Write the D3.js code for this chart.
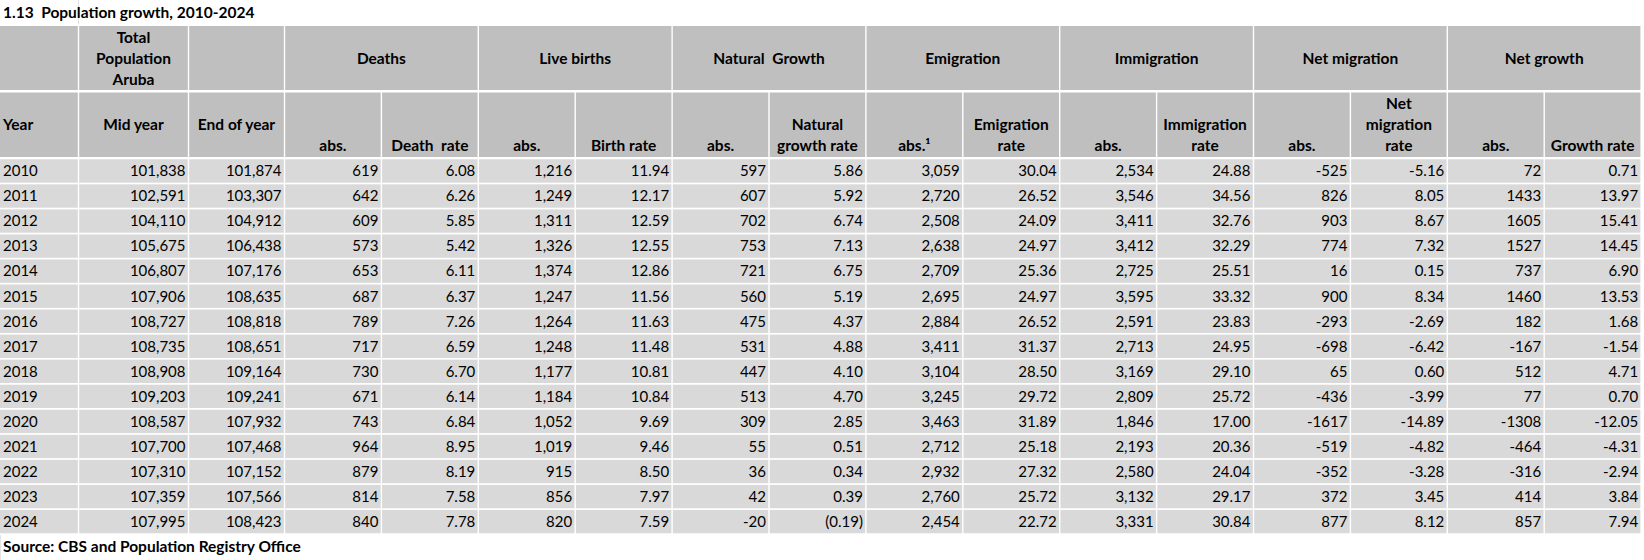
<!DOCTYPE html>
<html>
<head>
<meta charset="utf-8">
<script src="https://cdn.jsdelivr.net/npm/d3@7"></script>
<style>
  body { margin: 0; background: #fff; }
  svg text { font-family: Lato, "Open Sans", sans-serif; font-size: 15px; fill: #000; white-space: pre; }
  .bold { font-weight: bold; font-size: 15.5px; }
</style>
</head>
<body>
<svg id="chart" width="1644" height="560"></svg>
<script>
// table values
var years = [2010, 2011, 2012, 2013, 2014, 2015, 2016, 2017, 2018, 2019, 2020, 2021, 2022, 2023, 2024];
var midYear = [101838, 102591, 104110, 105675, 106807, 107906, 108727, 108735, 108908, 109203, 108587, 107700, 107310, 107359, 107995];
var endOfYear = [101874, 103307, 104912, 106438, 107176, 108635, 108818, 108651, 109164, 109241, 107932, 107468, 107152, 107566, 108423];
var deathsAbs = [619, 642, 609, 573, 653, 687, 789, 717, 730, 671, 743, 964, 879, 814, 840];
var deathRate = [6.08, 6.26, 5.85, 5.42, 6.11, 6.37, 7.26, 6.59, 6.70, 6.14, 6.84, 8.95, 8.19, 7.58, 7.78];
var birthsAbs = [1216, 1249, 1311, 1326, 1374, 1247, 1264, 1248, 1177, 1184, 1052, 1019, 915, 856, 820];
var birthRate = [11.94, 12.17, 12.59, 12.55, 12.86, 11.56, 11.63, 11.48, 10.81, 10.84, 9.69, 9.46, 8.50, 7.97, 7.59];
var naturalAbs = [597, 607, 702, 753, 721, 560, 475, 531, 447, 513, 309, 55, 36, 42, -20];
var naturalRate = [5.86, 5.92, 6.74, 7.13, 6.75, 5.19, 4.37, 4.88, 4.10, 4.70, 2.85, 0.51, 0.34, 0.39, -0.19];
var emigrationAbs = [3059, 2720, 2508, 2638, 2709, 2695, 2884, 3411, 3104, 3245, 3463, 2712, 2932, 2760, 2454];
var emigrationRate = [30.04, 26.52, 24.09, 24.97, 25.36, 24.97, 26.52, 31.37, 28.50, 29.72, 31.89, 25.18, 27.32, 25.72, 22.72];
var immigrationAbs = [2534, 3546, 3411, 3412, 2725, 3595, 2591, 2713, 3169, 2809, 1846, 2193, 2580, 3132, 3331];
var immigrationRate = [24.88, 34.56, 32.76, 32.29, 25.51, 33.32, 23.83, 24.95, 29.10, 25.72, 17.00, 20.36, 24.04, 29.17, 30.84];
var netMigrationAbs = [-525, 826, 903, 774, 16, 900, -293, -698, 65, -436, -1617, -519, -352, 372, 877];
var netMigrationRate = [-5.16, 8.05, 8.67, 7.32, 0.15, 8.34, -2.69, -6.42, 0.60, -3.99, -14.89, -4.82, -3.28, 3.45, 8.12];
var netGrowthAbs = [72, 1433, 1605, 1527, 737, 1460, 182, -167, 512, 77, -1308, -464, -316, 414, 857];
var growthRate = [0.71, 13.97, 15.41, 14.45, 6.90, 13.53, 1.68, -1.54, 4.71, 0.70, -12.05, -4.31, -2.94, 3.84, 7.94];

var groupHeaders = [
  { label: [""], from: 0, to: 0 },
  { label: ["Total", "Population", "Aruba"], from: 1, to: 1 },
  { label: [""], from: 2, to: 2 },
  { label: ["Deaths"], from: 3, to: 4 },
  { label: ["Live births"], from: 5, to: 6 },
  { label: ["Natural  Growth"], from: 7, to: 8 },
  { label: ["Emigration"], from: 9, to: 10 },
  { label: ["Immigration"], from: 11, to: 12 },
  { label: ["Net migration"], from: 13, to: 14 },
  { label: ["Net growth"], from: 15, to: 16 }
];
var subHeaders = [
  ["Year"], ["Mid year"], ["End of year"],
  ["abs."], ["Death  rate"],
  ["abs."], ["Birth rate"],
  ["abs."], ["Natural", "growth rate"],
  ["abs.\u00b9"], ["Emigration", "rate"],
  ["abs."], ["Immigration", "rate"],
  ["abs."], ["Net", "migration", "rate"],
  ["abs."], ["Growth rate"]
];

var title = "1.13  Population growth, 2010-2024";
var source = "Source: CBS and Population Registry Office";

// number formats (plain hyphen for negatives, as in the sheet)
var loc = d3.formatLocale({ decimal: ".", thousands: ",", grouping: [3], currency: ["", ""], minus: "-" });
var fmtComma = loc.format(",");
var fmtPlain = loc.format("d");
var fmtRate = loc.format(".2f");
var fmtParen = function(v) { return v < 0 ? "(" + fmtRate(-v) + ")" : fmtRate(v); };

var columns = [
  { values: years, fmt: String, align: "left" },
  { values: midYear, fmt: fmtComma },
  { values: endOfYear, fmt: fmtComma },
  { values: deathsAbs, fmt: fmtComma },
  { values: deathRate, fmt: fmtRate },
  { values: birthsAbs, fmt: fmtComma },
  { values: birthRate, fmt: fmtRate },
  { values: naturalAbs, fmt: fmtComma },
  { values: naturalRate, fmt: fmtParen },
  { values: emigrationAbs, fmt: fmtComma },
  { values: emigrationRate, fmt: fmtRate },
  { values: immigrationAbs, fmt: fmtComma },
  { values: immigrationRate, fmt: fmtRate },
  { values: netMigrationAbs, fmt: fmtPlain },
  { values: netMigrationRate, fmt: fmtRate },
  { values: netGrowthAbs, fmt: fmtPlain },
  { values: growthRate, fmt: fmtRate }
];

// layout
var colWidths = [78.5, 110, 96].concat(d3.range(14).map(function() { return 96.9; }));
var edges = [0].concat(Array.from(d3.cumsum(colWidths)));
var gapX = 1.4;
var head1 = { top: 26, bottom: 90 };
var head2 = { top: 92.5, bottom: 157 };
var lineH = 21;
var pad = 3;

var y = d3.scaleBand().domain(years).range([159.3, 533.3]).paddingInner(0.068);

var svg = d3.select("#chart");

// faint sheet gridlines around the title/source cells
svg.append("line").attr("x1", 78.5).attr("x2", 78.5).attr("y1", 0).attr("y2", 24)
  .attr("stroke", "#e3e3e3").attr("stroke-width", 1);
svg.append("line").attr("x1", 0.5).attr("x2", 0.5).attr("y1", 535).attr("y2", 560)
  .attr("stroke", "#e3e3e3").attr("stroke-width", 1);

svg.append("text").attr("class", "bold").attr("x", 3).attr("y", 18).text(title);

// header row 1 (group headers)
var g1 = svg.append("g").attr("class", "head1");
g1.selectAll("rect").data(groupHeaders).enter().append("rect")
  .attr("x", function(d) { return edges[d.from] + (d.from ? gapX / 2 : 0); })
  .attr("y", head1.top)
  .attr("width", function(d) { return edges[d.to + 1] - edges[d.from] - (d.from ? gapX : gapX / 2); })
  .attr("height", head1.bottom - head1.top)
  .attr("fill", "#bfbfbf");

g1.selectAll("text").data(groupHeaders).enter().append("text")
  .attr("class", "bold")
  .attr("text-anchor", "middle")
  .attr("x", function(d) { return (edges[d.from] + edges[d.to + 1]) / 2; })
  .each(function(d) {
    var n = d.label.length;
    var mid = (head1.top + head1.bottom) / 2 + 5;
    d3.select(this).selectAll("tspan").data(d.label).enter().append("tspan")
      .attr("x", (edges[d.from] + edges[d.to + 1]) / 2)
      .attr("y", function(t, i) { return mid + (i - (n - 1) / 2) * lineH + 1; })
      .text(function(t) { return t; });
  });

// header row 2 (column headers)
var g2 = svg.append("g").attr("class", "head2");
g2.selectAll("rect").data(subHeaders).enter().append("rect")
  .attr("x", function(d, i) { return edges[i] + (i ? gapX / 2 : 0); })
  .attr("y", head2.top)
  .attr("width", function(d, i) { return colWidths[i] - (i ? gapX : gapX / 2); })
  .attr("height", head2.bottom - head2.top)
  .attr("fill", "#bfbfbf");

g2.selectAll("text").data(subHeaders).enter().append("text")
  .attr("class", "bold")
  .each(function(d, i) {
    var n = d.length;
    var left = i === 0;
    var centred = i < 3;
    var xx = left ? pad : (edges[i] + edges[i + 1]) / 2;
    d3.select(this).attr("text-anchor", left ? "start" : "middle");
    d3.select(this).selectAll("tspan").data(d).enter().append("tspan")
      .attr("x", xx)
      .attr("y", function(t, k) {
        if (centred) return (head2.top + head2.bottom) / 2 + 5.5;
        return 151 - (n - 1 - k) * lineH;
      })
      .text(function(t) { return t; });
  });

// data rows
var body = svg.append("g").attr("class", "body");
columns.forEach(function(col, ci) {
  var g = body.append("g");
  g.selectAll("rect").data(col.values).enter().append("rect")
    .attr("x", edges[ci] + (ci ? gapX / 2 : 0))
    .attr("y", function(v, ri) { return y(years[ri]); })
    .attr("width", colWidths[ci] - (ci ? gapX : gapX / 2))
    .attr("height", y.bandwidth())
    .attr("fill", "#d9d9d9");
  g.selectAll("text").data(col.values).enter().append("text")
    .attr("text-anchor", col.align === "left" ? "start" : "end")
    .attr("x", col.align === "left" ? edges[ci] + pad : edges[ci + 1] - pad)
    .attr("y", function(v, ri) { return y(years[ri]) + y.bandwidth() / 2 + 5.3; })
    .text(function(v) { return col.fmt(v); });
});

svg.append("text").attr("class", "bold").attr("x", 3).attr("y", 552).text(source);
</script>
</body>
</html>
